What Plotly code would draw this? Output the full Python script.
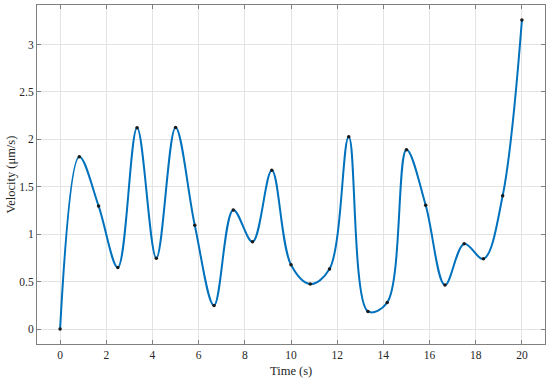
import plotly.graph_objects as go

# time samples (s) and measured velocity (um/s)
time_s = [0.0, 0.833, 1.667, 2.5, 3.333, 4.167, 5.0, 5.833, 6.667, 7.5, 8.333, 9.167,
          10.0, 10.833, 11.667, 12.5, 13.333, 14.167, 15.0, 15.833, 16.667, 17.5,
          18.333, 19.167, 20.0]
velocity = [0.0, 1.817, 1.298, 0.649, 2.122, 0.747, 2.126, 1.095, 0.249, 1.256, 0.919,
            1.674, 0.677, 0.474, 0.632, 2.028, 0.185, 0.28, 1.89, 1.305, 0.463, 0.898,
            0.74, 1.406, 3.259]

x_ticks = list(range(0, 21, 2))
y_ticks = [0, 0.5, 1, 1.5, 2, 2.5, 3]

FONT = "Liberation Serif, Times New Roman, serif"
TEXT = "#262626"
BLUE = "#0072BD"

fig = go.Figure()
fig.add_trace(go.Scatter(
    x=time_s, y=velocity, mode="lines",
    line={"color": BLUE, "width": 2, "shape": "spline", "smoothing": 1.0},
    hoverinfo="skip", showlegend=False,
))
fig.add_trace(go.Scatter(
    x=time_s, y=velocity, mode="markers",
    marker={"color": "#1a1a1a", "size": 3.5},
    showlegend=False,
))

axis_common = dict(
    showline=True, linecolor="#808080", linewidth=1, mirror="ticks",
    ticks="inside", ticklen=4, tickcolor="#808080",
    showgrid=True, gridcolor="#e3e3e3", gridwidth=1, zeroline=False,
    tickfont={"family": FONT, "size": 11.5, "color": TEXT},
    automargin=False,
)

fig.update_xaxes(range=[-1, 21], tickvals=x_ticks, **axis_common)
fig.update_yaxes(
    range=[-0.158, 3.417], tickvals=y_ticks, ticktext=[f"{v:g}" for v in y_ticks],
    **axis_common,
)

# axis titles as annotations so the plot area stays fixed
fig.add_annotation(
    text="Time (s)", xref="paper", yref="paper", x=0.5, y=0,
    xanchor="center", yanchor="middle", yshift=-27, showarrow=False,
    font={"family": FONT, "size": 12.5, "color": TEXT},
)
fig.add_annotation(
    text="Velocity (\u03bcm/s)", xref="paper", yref="paper", x=0, y=0.5,
    xanchor="center", yanchor="middle", xshift=-27, textangle=-90, showarrow=False,
    font={"family": FONT, "size": 12.5, "color": TEXT},
)

fig.update_layout(
    width=550, height=381,
    margin={"l": 37, "r": 5, "t": 5, "b": 37},
    plot_bgcolor="white", paper_bgcolor="white",
)

# drop the browser's default body margin so the figure sits at the page corner
fig.write_html(
    "out.html",
    config={"displayModeBar": False},
    post_script="document.body.style.margin = '0';",
)
